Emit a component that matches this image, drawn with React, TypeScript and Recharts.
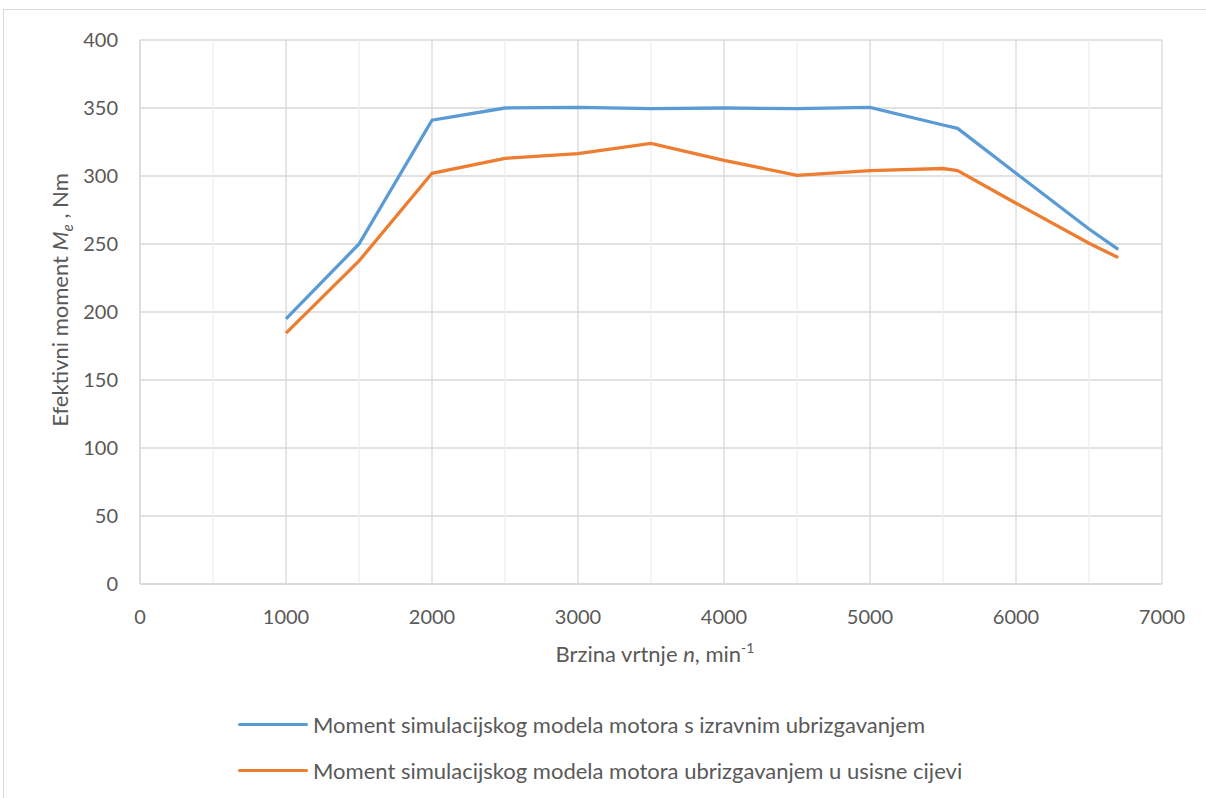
import React from 'react';
import { LineChart, Line, XAxis, YAxis, CartesianGrid, ReferenceLine } from 'recharts';

const rpm = [1000, 1500, 2000, 2500, 3000, 3500, 4000, 4500, 5000, 5500, 5600, 6000, 6500, 6700];
const directInjection = [195, 250, 341, 350, 350.5, 349.5, 350, 349.5, 350.5, 337.5, 335, 302, 261, 246];
const portInjection = [184.5, 237.5, 302, 313, 316.5, 324, 311.5, 300.5, 304, 305.5, 304, 280, 250.5, 240];

const xTicks = [0, 1000, 2000, 3000, 4000, 5000, 6000, 7000];
const xMinor = [500, 1500, 2500, 3500, 4500, 5500, 6500];
const yTicks = [0, 50, 100, 150, 200, 250, 300, 350, 400];

const seriesNames = [
  'Moment simulacijskog modela motora s izravnim ubrizgavanjem',
  'Moment simulacijskog modela motora ubrizgavanjem u usisne cijevi',
];
const seriesColors = ['#5b9bd5', '#ed7d31'];

const data = rpm.map((n, i) => ({ n, direct: directInjection[i], port: portInjection[i] }));

const FONT = 'Lato, "Open Sans", sans-serif';
const TEXT = '#595959';

const YLabel = () => (
  <text x={68} y={300} transform="rotate(-90 68 300)" textAnchor="middle" fill={TEXT} fontSize={22} fontFamily={FONT}>
    Efektivni moment <tspan fontStyle="italic">M</tspan>
    <tspan fontStyle="italic" fontSize={15} dy={5}>e</tspan>
    <tspan dy={-5}> , Nm</tspan>
  </text>
);

const XLabel = () => (
  <text x={655} y={662} textAnchor="middle" fill={TEXT} fontSize={22} fontFamily={FONT}>
    Brzina vrtnje <tspan fontStyle="italic">n</tspan>, min
    <tspan fontSize={14} dy={-9}>-1</tspan>
  </text>
);

const LegendBox = () => (
  <div style={{ position: 'absolute', left: 238, top: 701, fontFamily: FONT, fontSize: 22, color: TEXT }}>
    {seriesNames.map((name, i) => (
      <div key={name} style={{ display: 'flex', alignItems: 'center', height: 46 }}>
        <div style={{ width: 70, height: 3, background: seriesColors[i], borderRadius: 2, marginRight: 5 }} />
        <span>{name}</span>
      </div>
    ))}
  </div>
);

const App: React.FC = () => {
  return (
    <div style={{ position: 'absolute', left: 0, top: 0, width: 1206, height: 798, overflow: 'hidden', background: '#fff' }}>
      <div style={{ position: 'absolute', left: 3, top: 9, width: 1300, height: 900, border: '1px solid #d9d9d9' }} />
      <div style={{ position: 'absolute', left: 0, top: 0 }}>
        <LineChart width={1206} height={798} data={data} margin={{ top: 40, right: 44, bottom: 184, left: 0 }}>
          <CartesianGrid stroke="#d9d9d9" strokeWidth={1.3} />
          {xMinor.map((v) => (
            <ReferenceLine key={v} x={v} stroke="#efefef" strokeWidth={1.3} />
          ))}
          <XAxis
            type="number"
            dataKey="n"
            domain={[0, 7000]}
            ticks={xTicks}
            height={30}
            tickLine={false}
            axisLine={{ stroke: '#d9d9d9', strokeWidth: 1.3 }}
            tick={{ fill: TEXT, fontSize: 20, fontFamily: FONT }}
            tickMargin={20}
            interval={0}
          />
          <YAxis
            type="number"
            domain={[0, 400]}
            ticks={yTicks}
            width={140}
            tickLine={false}
            axisLine={{ stroke: '#d9d9d9', strokeWidth: 1.3 }}
            tick={{ fill: TEXT, fontSize: 20, fontFamily: FONT }}
            tickMargin={16}
            interval={0}
          />
          <Line type="linear" dataKey="direct" name={seriesNames[0]} stroke={seriesColors[0]} strokeWidth={3.3} dot={false} isAnimationActive={false} />
          <Line type="linear" dataKey="port" name={seriesNames[1]} stroke={seriesColors[1]} strokeWidth={3.3} dot={false} isAnimationActive={false} />
          <YLabel />
          <XLabel />
        </LineChart>
      </div>
      <LegendBox />
    </div>
  );
};

export default App;
